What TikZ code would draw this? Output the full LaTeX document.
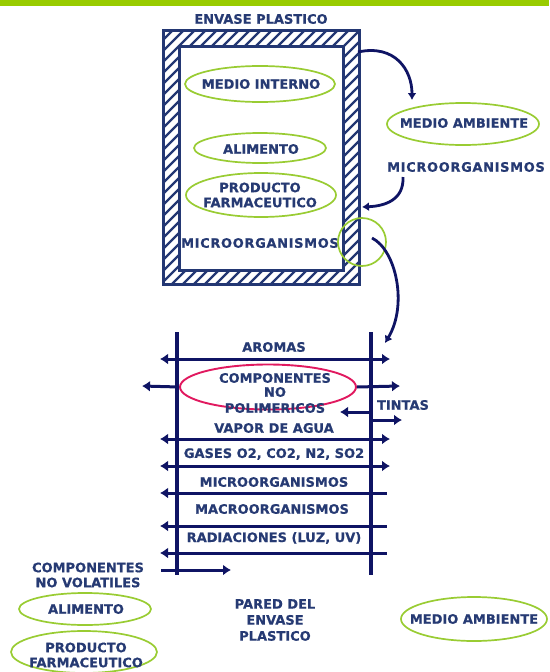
\documentclass[tikz,border=0pt]{standalone}
\usepackage{fontspec}
\setmainfont{DejaVu Sans}[BoldFeatures={FakeBold=0.6}]
\newfontfamily\lsfont{DejaVu Sans}[LetterSpace=5,BoldFeatures={FakeBold=0.6}]
\usetikzlibrary{shapes.geometric,arrows.meta}
\definecolor{navytext}{RGB}{38,58,115}
\definecolor{boxblue}{RGB}{35,55,115}
\definecolor{arrowblue}{RGB}{15,20,100}
\definecolor{lime}{RGB}{153,204,51}
\definecolor{barlime}{RGB}{153,204,0}
\definecolor{rosered}{RGB}{225,25,95}
\begin{document}
\begin{tikzpicture}[x=1pt,y=-1pt,
  >={Latex[length=8pt,width=11pt]},
  lbl/.style={font=\bfseries\fontsize{13}{15}\selectfont, text=navytext, align=center, inner sep=0pt},
  slbl/.style={lbl, font=\lsfont\bfseries\fontsize{13}{15}\selectfont},
  goval/.style={draw=lime, line width=1.7pt, ellipse, inner sep=0pt},
  harrow/.style={draw=arrowblue, line width=3pt},
  carrow/.style={draw=arrowblue, line width=2.8pt, -{Latex[length=7pt,width=9pt]}},
  wall/.style={draw=arrowblue, line width=3.2pt},
  hatch/.style={draw=boxblue, line width=2.2pt},
  boxline/.style={draw=boxblue, line width=3pt}]
\useasboundingbox (0,0) rectangle (549,672);
\fill[barlime] (0,0) rectangle (549,6);

% ---------- container ----------
\node[lbl] (title) at (261,19) {ENVASE PLASTICO};
\begin{scope}
  \clip (163,30) rectangle (359,284);
  \foreach \a in {-130,-119,...,380} \draw[hatch] (\a,300) -- (\a+270,30);
\end{scope}
\fill[white] (179,46) rectangle (343,270);
\draw[boxline] (163,30) rectangle (359,284);
\draw[boxline] (179,46) rectangle (343,270);

\node[goval, minimum width=150pt, minimum height=36pt] (mi) at (260,84) {};
\node[lbl] (mit) at (261,84) {MEDIO INTERNO};
\node[goval, minimum width=132pt, minimum height=30pt] (al) at (260,148) {};
\node[lbl] (alt) at (261,149) {ALIMENTO};
\node[goval, minimum width=150pt, minimum height=44pt] (pf) at (261,195) {};
\node[lbl] (pft) at (260,195) {PRODUCTO\\FARMACEUTICO};
\node[slbl] (mo1) at (260,243) {MICROORGANISMOS};
\node[circle, draw=lime, line width=1.7pt, minimum size=48pt, inner sep=0pt] (circ) at (362,242) {};

\node[goval, minimum width=152pt, minimum height=42pt] (ma) at (463,124) {};
\node[lbl] (mat) at (464,123) {MEDIO AMBIENTE};
\node[slbl] (mo2) at (466,167) {MICROORGANISMOS};

\coordinate (c1s) at (358,52);
\coordinate (c1e) at (412,100);
\coordinate (c2s) at (403,177);
\coordinate (c2e) at (362,207);
\coordinate (c3s) at (372,238);
\coordinate (c3e) at (385,343);
\draw[carrow] (c1s) .. controls (395,44) and (412,70) .. (c1e);
\draw[carrow] (c2s) .. controls (404,200) and (385,206) .. (c2e);
\draw[carrow] (c3s) .. controls (396,250) and (408,305) .. (c3e);

% ---------- wall section ----------
\coordinate (wlt) at (177,332);
\coordinate (wlb) at (177,575);
\coordinate (wrt) at (371,332);
\coordinate (wrb) at (371,575);
\draw[wall] (wlt) -- (wlb);
\draw[wall] (wrt) -- (wrb);

\node[lbl] (aro) at (274,347) {AROMAS};
\coordinate (a1l) at (160,359); \coordinate (a1r) at (390,359);
\draw[harrow, <->] (a1l) -- (a1r);

\node[draw=rosered, line width=1.9pt, ellipse, inner sep=0pt, minimum width=176pt, minimum height=45pt] (cnp) at (268,387) {};
\node[lbl] (cnpt) at (275,393) {COMPONENTES\\[-1pt]NO\\[1pt]POLIMERICOS};
\coordinate (cnl) at (142,386); \coordinate (cnr) at (400,386);
\draw[harrow, ->] (cnp.west) -- (cnl);
\draw[harrow, ->] (cnp.east) -- (cnr);

\node[lbl] (tin) at (403,405) {TINTAS};
\coordinate (t1a) at (371,412); \coordinate (t1b) at (340,412);
\coordinate (t2a) at (371,420); \coordinate (t2b) at (402,420);
\draw[harrow, ->] (t1a) -- (t1b);
\draw[harrow, ->] (t2a) -- (t2b);

\node[lbl] (vap) at (274,428) {VAPOR DE AGUA};
\coordinate (a2l) at (160,439); \coordinate (a2r) at (390,439);
\draw[harrow, <->] (a2l) -- (a2r);

\node[lbl] (gas) at (274,454) {GASES O2, CO2, N2, SO2};
\coordinate (a3l) at (160,466); \coordinate (a3r) at (390,466);
\draw[harrow, <->] (a3l) -- (a3r);

\node[lbl] (mic) at (274,482) {MICROORGANISMOS};
\coordinate (a4l) at (160,493); \coordinate (a4r) at (387,493);
\draw[harrow, <-] (a4l) -- (a4r);

\node[lbl] (mac) at (272,509) {MACROORGANISMOS};
\coordinate (a5l) at (160,526); \coordinate (a5r) at (387,526);
\draw[harrow, <-] (a5l) -- (a5r);

\node[lbl] (rad) at (274,538) {RADIACIONES (LUZ, UV)};
\coordinate (a6l) at (160,553); \coordinate (a6r) at (387,553);
\draw[harrow, <-] (a6l) -- (a6r);

\coordinate (a7l) at (161,570); \coordinate (a7r) at (231,570);
\draw[harrow, ->] (a7l) -- (a7r);

% ---------- bottom labels ----------
\node[lbl] (cnv) at (88,575) {COMPONENTES\\NO VOLATILES};
\node[goval, minimum width=132pt, minimum height=32pt] (al2) at (85,609) {};
\node[lbl] (al2t) at (86,609) {ALIMENTO};
\node[goval, minimum width=146pt, minimum height=42pt] (pf2) at (84,652) {};
\node[lbl] (pf2t) at (86,655) {PRODUCTO\\FARMACEUTICO};
\node[lbl] (pared) at (275,620) {PARED DEL\\[1pt]ENVASE\\[1pt]PLASTICO};
\node[goval, minimum width=146pt, minimum height=44pt] (ma2) at (474,619) {};
\node[lbl] (ma2t) at (474,619) {MEDIO AMBIENTE};
\end{tikzpicture}
\end{document}
